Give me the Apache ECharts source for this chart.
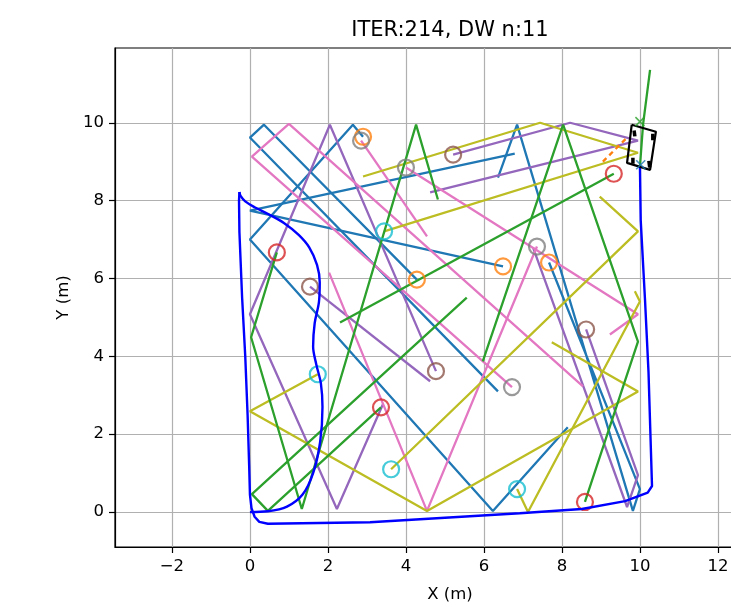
<!DOCTYPE html>
<html><head><meta charset="utf-8">
<script src="https://cdn.jsdelivr.net/npm/echarts@6/dist/echarts.min.js"></script>
<style>html,body{margin:0;padding:0;background:#fff;overflow:hidden;width:731px;height:608px}#c{width:800px;height:608px}</style>
</head><body><div id="c"></div>
<script>
const titleText = 'ITER:214, DW n:11';
const xName = 'X (m)';
const yName = 'Y (m)';
const xTicks = [-2, 0, 2, 4, 6, 8, 10, 12];
const yTicks = [0, 2, 4, 6, 8, 10];

// robot trajectory (blue): smooth inner loop + outer loop
const trajInner = [[0,0],[0.46,0.02],[0.95,0.14],[1.35,0.45],[1.62,1.0],[1.8,1.8],[1.86,2.7],[1.82,3.3],[1.7,3.8],[1.62,4.25],[1.66,4.85],[1.77,5.4],[1.79,5.9],[1.72,6.35],[1.52,6.8],[1.25,7.12],[0.88,7.42],[0.48,7.65],[0.12,7.83],[-0.12,7.98],[-0.24,8.12],[-0.27,8.22]];
const trajOuter = [[-0.27,8.22],[-0.28,8.0],[-0.27,7.2],[-0.2,5.5],[-0.12,4.0],[-0.06,2.5],[-0.02,1.2],[0.0,0.45],[0.04,0.1],[0.12,-0.12],[0.24,-0.25],[0.46,-0.3],[3.08,-0.26],[6.92,-0.03],[8.51,0.08],[9.62,0.28],[10.2,0.5],[10.31,0.67],[10.22,3.6],[10.13,5.46],[10.02,7.5],[10.0,8.9]];
const forwardPath = [[10.0,8.87],[10.08,9.95],[10.26,11.36]];
const robotBox = [[9.79,9.95],[10.41,9.77],[10.26,8.79],[9.67,8.97],[9.79,9.95]];
const wheelA = [[9.85,9.80],[9.87,9.65]];
const wheelB = [[10.33,9.72],[10.33,9.55]];
const wheelC = [[9.82,9.10],[9.82,8.95]];
const wheelD = [[10.23,9.02],[10.25,8.85]];
const greenMark = [[10.0,10.03]];
const blueMark = [[10.02,8.92]];
const dashedOrange = [[9.05,9.0],[9.69,9.64]];

// green paths
const greenA = [[4.82,8.03],[4.26,9.95],[1.33,0.08],[0.03,4.49],[0.69,6.67]];
const greenB = [[5.97,3.87],[8.03,9.95],[9.95,4.38],[8.59,0.26]];
const greenC = [[2.31,4.87],[9.33,8.69]];
const greenD = [[5.56,5.51],[0.05,0.46],[0.46,0.03],[3.36,2.69]];
// olive paths
const oliveE = [[8.97,8.10],[9.95,7.21],[3.62,1.10]];
const oliveF = [[9.87,5.67],[10.0,5.41],[7.13,0.0],[6.85,0.59]];
const oliveG = [[7.74,4.36],[9.95,3.10],[4.54,0.03],[0.0,2.59],[1.74,3.54]];
const oliveH = [[2.90,8.62],[7.44,10.0],[9.95,9.23],[3.44,7.21]];
// purple paths
const purple1 = [[4.62,8.21],[9.95,9.54],[8.21,10.0],[5.21,9.18]];
const purple2 = [[3.41,2.77],[2.23,0.08],[0.0,5.08],[2.05,9.95],[4.77,3.62]];
const purple3 = [[4.62,3.36],[1.54,5.79]];
const purple4 = [[7.26,6.79],[9.67,0.13],[9.95,0.95],[8.62,4.69]];
// blue paths
const blue1 = [[6.36,3.10],[0.0,9.62],[0.36,9.95],[4.28,5.97]];
const blue2 = [[8.15,2.18],[6.23,0.03],[0.0,7.0],[2.64,9.95],[2.90,9.64]];
const blue3 = [[6.79,9.21],[0.0,7.74],[6.49,6.31]];
const blue4 = [[6.36,8.59],[6.85,9.95],[9.82,0.03],[10.0,0.59],[7.67,6.41]];
// pink paths
const pink1 = [[2.03,6.15],[4.54,0.03],[7.36,6.82]];
const pink2 = [[9.23,4.56],[9.95,5.08],[4.0,8.85]];
const pink3 = [[8.54,3.23],[1.0,9.97],[0.05,9.13],[6.72,3.21]];
const pink4 = [[4.54,7.08],[2.85,9.54]];

// circles (end points)
const orangeCircles = [[2.90,9.64],[4.28,5.97],[6.49,6.31],[7.67,6.41]];
const redCircles = [[0.69,6.67],[8.59,0.26],[9.33,8.69],[3.36,2.69]];
const cyanCircles = [[3.44,7.21],[1.74,3.54],[3.62,1.10],[6.85,0.59]];
const brownCircles = [[5.21,9.18],[1.54,5.79],[4.77,3.62],[8.62,4.69]];
const grayCircles = [[2.85,9.54],[4.0,8.85],[7.36,6.82],[6.72,3.21]];

const C = {blue:'#1f77b4', orange:'#ff7f0e', green:'#2ca02c', red:'#d62728', purple:'#9467bd', brown:'#8c564b', pink:'#e377c2', gray:'#7f7f7f', olive:'#bcbd22', cyan:'#17becf'};
const LW = 2.3;

function line(data, color, width, extra) {
  return Object.assign({type:'line', data:data, symbol:'none', showSymbol:false, silent:true, animation:false,
    lineStyle:{color:color, width:width}, z:2}, extra || {});
}
function circles(data, color) {
  return {type:'scatter', data:data, symbol:'circle', symbolSize:16, silent:true, animation:false, z:4,
    itemStyle:{color:'rgba(0,0,0,0)', borderColor:color, borderWidth:2.2}};
}
function xmark(data, color) {
  return {type:'scatter', data:data, symbol:'path://M0,0L10,10M10,0L0,10', symbolSize:9, silent:true, animation:false, z:6,
    itemStyle:{color:'none', borderColor:color, borderWidth:1.6}};
}

const series = [
  line(blue1, C.blue, LW), line(blue2, C.blue, LW), line(blue3, C.blue, LW), line(blue4, C.blue, LW),
  line(purple1, C.purple, LW), line(purple2, C.purple, LW), line(purple3, C.purple, LW), line(purple4, C.purple, LW),
  line(pink1, C.pink, LW), line(pink2, C.pink, LW), line(pink3, C.pink, LW), line(pink4, C.pink, LW),
  line(oliveE, C.olive, LW), line(oliveF, C.olive, LW), line(oliveG, C.olive, LW), line(oliveH, C.olive, LW),
  line(greenA, C.green, LW), line(greenB, C.green, LW), line(greenC, C.green, LW), line(greenD, C.green, LW),
  line(dashedOrange, C.orange, LW, {lineStyle:{color:C.orange, width:LW, type:[5,4]}}),
  circles(orangeCircles, C.orange), circles(redCircles, C.red), circles(cyanCircles, C.cyan),
  circles(brownCircles, C.brown), circles(grayCircles, C.gray),
  line(trajInner, '#0000ff', 2.4, {z:5, smooth:0.35}),
  line(trajOuter, '#0000ff', 2.4, {z:5}),
  line(forwardPath, C.green, LW, {z:5}),
  line(robotBox, '#000', 2.2, {z:6}),
  line(wheelA, '#000', 3.5, {z:6}), line(wheelB, '#000', 3.5, {z:6}),
  line(wheelC, '#000', 3.5, {z:6}), line(wheelD, '#000', 3.5, {z:6}),
  xmark(greenMark, C.green), xmark(blueMark, C.blue)
];

const fmt = v => (v < 0 ? '\u2212' + Math.abs(v) : String(v));
const font = 'DejaVu Sans';
const FS = 16.5;

const chart = echarts.init(document.getElementById('c'), null, {renderer:'canvas', width:800, height:608});
chart.setOption({
  animation:false,
  backgroundColor:'#fff',
  grid:{left:115, top:48, width:670, height:500, show:true, borderColor:'#000', borderWidth:1.2, backgroundColor:'transparent'},
  xAxis:{type:'value', min:-3.46, max:13.72, minInterval:2, maxInterval:2,
    name:xName, nameLocation:'middle', nameGap:39, nameTextStyle:{fontSize:FS, color:'#000', fontFamily:font},
    axisLine:{show:true, onZero:false, lineStyle:{color:'#000', width:1.2}},
    axisTick:{show:true, length:6, inside:false, lineStyle:{color:'#000', width:1.2}, customValues:xTicks},
    axisLabel:{show:true, margin:11, fontSize:FS, color:'#000', fontFamily:font, formatter:fmt, customValues:xTicks},
    splitLine:{show:true, lineStyle:{color:'#b0b0b0', width:1.2}}},
  yAxis:{type:'value', min:-0.897, max:11.92, minInterval:2, maxInterval:2,
    name:yName, nameLocation:'middle', nameGap:42, nameRotate:90, nameTextStyle:{fontSize:FS, color:'#000', fontFamily:font},
    axisLine:{show:true, onZero:false, lineStyle:{color:'#000', width:1.2}},
    axisTick:{show:true, length:6, inside:false, lineStyle:{color:'#000', width:1.2}, customValues:yTicks},
    axisLabel:{show:true, margin:11, fontSize:FS, color:'#000', fontFamily:font, formatter:fmt, customValues:yTicks},
    splitLine:{show:true, lineStyle:{color:'#b0b0b0', width:1.2}}},
  graphic:[{type:'text', x:450, y:41, silent:true, style:{text:titleText, fontSize:21, fill:'#000', fontFamily:font, align:'center', verticalAlign:'bottom'}}],
  series:series
});
</script>
</body></html>
